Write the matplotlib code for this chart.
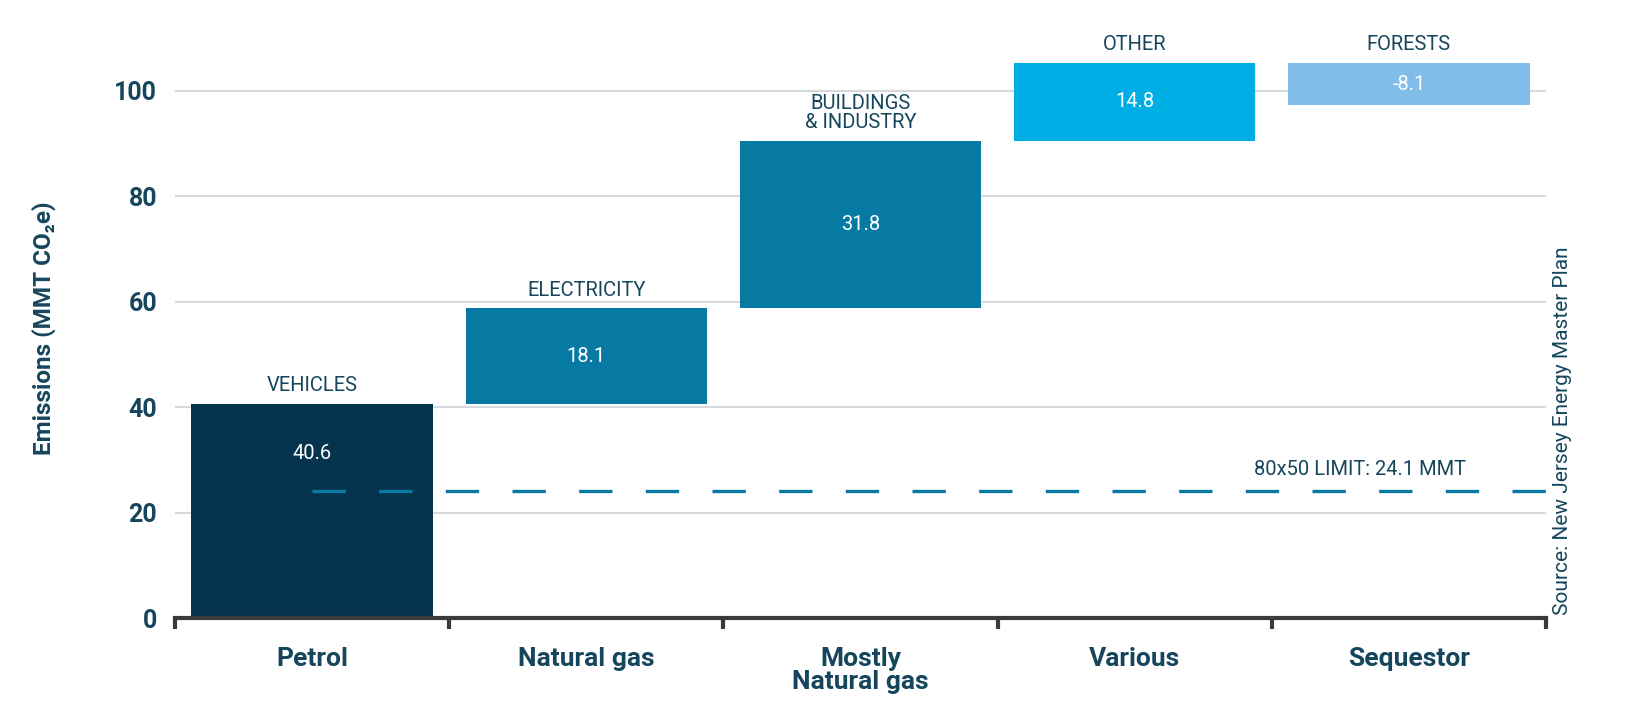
import matplotlib
matplotlib.use('Agg')
import matplotlib.pyplot as plt
import numpy as np

SOURCES = ['Petrol', 'Natural gas', 'Mostly\nNatural gas', 'Various', 'Sequestor']
SECTORS = ['VEHICLES', 'ELECTRICITY', 'BUILDINGS\n& INDUSTRY', 'OTHER', 'FORESTS']
VALUES = [40.6, 18.1, 31.8, 14.8, -8.1]
LIMIT = 24.1
LIMIT_LABEL = '80x50 LIMIT: 24.1 MMT'
SOURCE_NOTE = 'Source: New Jersey Energy Master Plan'

COLORS = ['#06334d', '#067aa3', '#067aa3', '#00aee6', '#80bde9']
TEXT = '#15465c'
FONT = ['Roboto', 'DejaVu Sans']

plt.rcParams['font.family'] = FONT

fig = plt.figure(figsize=(16.34, 7.12), dpi=100)
ax = fig.add_axes([175 / 1634, 94 / 712, 1371 / 1634, 559 / 712])

x = np.arange(len(VALUES))
values = np.array(VALUES)
bottoms = np.concatenate([[0], np.cumsum(values)[:-1]])
tops = np.maximum(bottoms, bottoms + values)

ax.bar(x, values, bottom=bottoms, width=0.88, color=COLORS, zorder=2)

for i in range(len(VALUES)):
    mid = bottoms[i] + values[i] / 2
    if i == 0:
        # first label sits near the top, clear of the limit line
        mid = tops[i] - 9.4
    ax.text(x[i], mid, f'{VALUES[i]}', color='white', fontsize=14.5,
            ha='center', va='center', zorder=4)
    ax.text(x[i], tops[i] + 1.6, SECTORS[i], color=TEXT, fontsize=14.5,
            ha='center', va='bottom', linespacing=1.0, clip_on=False)

ax.hlines(LIMIT, x[0], x[-1] + 0.5, color='#0a7aa5', linewidth=2.4,
          linestyles=(0, (10, 10)), zorder=3)
ax.text(3.82, LIMIT + 2.3, LIMIT_LABEL, color=TEXT, fontsize=14.5,
        ha='center', va='bottom')

ax.set_xlim(-0.5, len(VALUES) - 0.5)
ax.set_ylim(0, 106)
ax.set_yticks([0, 20, 40, 60, 80, 100])
ax.yaxis.grid(True, color='#d5d9dc', linewidth=1.5, zorder=0)
ax.set_axisbelow(True)

for s in ['top', 'right', 'left']:
    ax.spines[s].set_visible(False)
ax.spines['bottom'].set_color('#3a3a3a')
ax.spines['bottom'].set_linewidth(3)
ax.spines['bottom'].set_zorder(5)

ax.set_xticks(x)
ax.set_xticklabels(SOURCES, linespacing=0.92)
ax.set_xticks(np.arange(-0.5, len(VALUES)), minor=True)
ax.tick_params(axis='x', which='major', length=0, pad=21,
               labelsize=19, labelcolor=TEXT)
ax.tick_params(axis='x', which='minor', length=8, width=3,
               color='#3a3a3a', direction='out')
ax.tick_params(axis='y', length=0, pad=13, labelsize=18, labelcolor=TEXT)
for lab in ax.get_xticklabels() + ax.get_yticklabels():
    lab.set_fontweight('bold')

ax.set_ylabel('Emissions (MMT CO\u2082e)', fontsize=17.5, fontweight='bold',
              color=TEXT)
ax.yaxis.set_label_coords(-0.087, 0.518)

fig.text(1563 / 1634, 97 / 712, SOURCE_NOTE, rotation=90, color=TEXT,
         fontsize=15, ha='center', va='bottom')

fig.savefig('out.png', dpi=100)
